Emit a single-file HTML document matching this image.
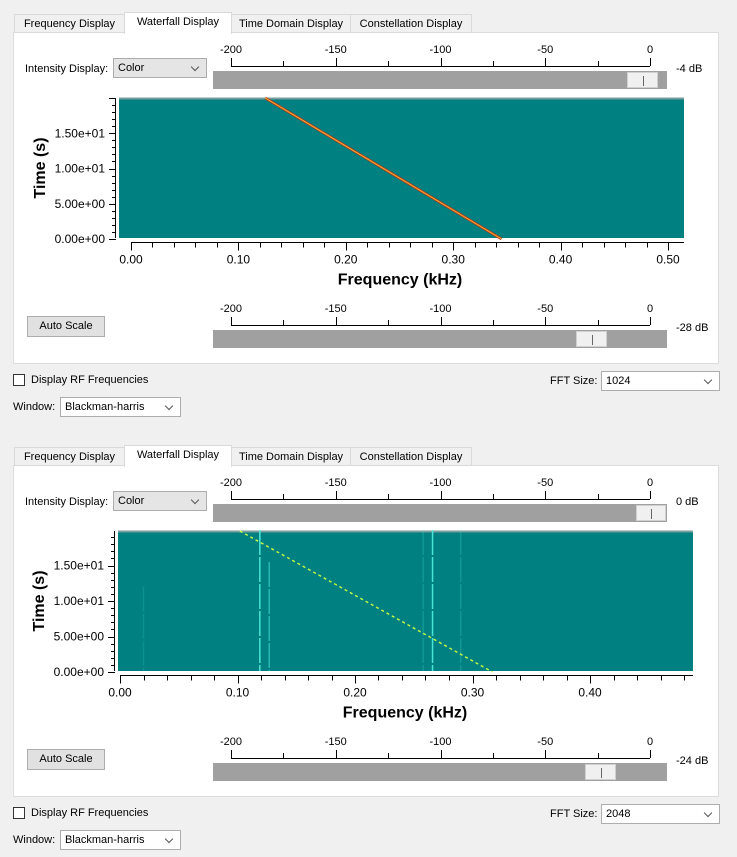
<!DOCTYPE html>
<html><head><meta charset="utf-8">
<style>
body{margin:0;width:737px;height:857px;background:#f0f0f0;font-family:"Liberation Sans",sans-serif;font-size:11px;color:#000;overflow:hidden;position:relative}
.abs{position:absolute}
.tab{position:absolute;height:19px;border:1px solid #d9d9d9;background:#f0f0f0;box-sizing:border-box;text-align:center;line-height:18px;font-size:11px}
.tab.act{background:#fff;height:22px;border-bottom:none}
.panel{position:absolute;border:1px solid #dcdcdc;background:#fff;box-sizing:border-box}
.combo{position:absolute;border:1px solid #adadad;background:#e5e5e5;box-sizing:border-box;padding-left:4px;line-height:18px;font-size:11px}
.combo.w{background:#fff}
.combo:after{content:"";position:absolute;right:8px;top:5px;width:5px;height:5px;border-right:1px solid #555;border-bottom:1px solid #555;transform:rotate(45deg)}
.btn{position:absolute;border:1px solid #adadad;background:#e1e1e1;box-sizing:border-box;text-align:center;line-height:19px;font-size:11px}
.bar{position:absolute;background:#a0a0a0}
.handle{position:absolute;background:#f0f0f0;border:1px solid #d0d0d0;box-sizing:border-box}
.handle:after{content:"";position:absolute;left:50%;top:3px;height:10px;border-left:1px solid #666}
.chk{position:absolute;width:12px;height:12px;border:1px solid #333;background:#fff;box-sizing:border-box}
</style></head><body>
<svg id="svg" class="abs" style="left:0;top:0" width="737" height="857"></svg>
<script>
// ---- data ----
const xTicksTop = [0, 0.1, 0.2, 0.3, 0.4, 0.5];
const xTickLabelsTop = ["0.00","0.10","0.20","0.30","0.40","0.50"];
const xTicksBot = [0, 0.1, 0.2, 0.3, 0.4];
const xTickLabelsBot = ["0.00","0.10","0.20","0.30","0.40"];
const yTicks = [0, 5, 10, 15];
const yTickLabels = ["0.00e+00","5.00e+00","1.00e+01","1.50e+01"];
const dbTicks = [-200,-150,-100,-50,0];
const topChirpFreq = [0.125, 0.345];   // freq at t=20 and t=0
const topChirpTime = [20, 0];
const botChirpFreq = [0.102, 0.317];
const botChirpTime = [20, 0];
const botToneFreq = [0.020, 0.119, 0.127, 0.258, 0.266, 0.290];
const botToneStrength = [0.15, 0.9, 0.5, 0.2, 0.9, 0.2];
const botToneStart = [12, 20, 15.5, 20, 20, 20];

const NS="http://www.w3.org/2000/svg";
const svg=document.getElementById('svg');
function mk(tag,attrs,parent){const e=document.createElementNS(NS,tag);for(const k in attrs)e.setAttribute(k,attrs[k]);(parent||svg).appendChild(e);return e;}
function txt(s,attrs){const t=mk('text',attrs);t.textContent=s;return t;}

function drawPanel(o){
  const g=mk('g',{});
  
  
  const xs=v=>o.x0+(v)*o.pxPerUnit;
  const ys=v=>o.yZero-(v)*o.pxPerSec;
  const bg=mk('rect',{x:o.px,y:o.py,width:o.pw,height:o.ph,fill:'#008080'},g);
  
  
  mk('line',{x1:o.px,y1:o.py+0.5,x2:o.px+o.pw,y2:o.py+0.5,stroke:'#7a9c9c','stroke-width':2},g);
  const yax=mk('g',{},g);
  
  
  mk('line',{x1:o.px-3.5,y1:o.py,x2:o.px-3.5,y2:o.py+o.ph,stroke:'#000'},yax);
  for(let v=0;v<=20;v+=1){const y=Math.round(ys(v))+0.5;if(y<o.py)continue;mk('line',{x1:o.px-(v%5==0?10:7),y1:y,x2:o.px-3,y2:y,stroke:'#000'},yax);}
  yTicks.forEach((v,i)=>{const t=txt(yTickLabels[i],{x:o.px-14,y:ys(v)+4,'text-anchor':'end','font-size':12,fill:'#000'});yax.appendChild(t);});
  const yt=txt('Time (s)',{x:0,y:0,'font-size':16,'font-weight':'bold','text-anchor':'middle',transform:`translate(${o.px-74},${o.py+o.ph/2}) rotate(-90)`});
  
  const xax=mk('g',{},g);
  
  
  const ay=o.py+o.ph+4.5;
  mk('line',{x1:xs(0),y1:ay,x2:o.px+o.pw,y2:ay,stroke:'#000'},xax);
  for(let v=0;v<=o.xMax+1e-9;v+=0.02){const x=Math.round(xs(v))+0.5;const major=Math.abs(v*10-Math.round(v*10))<1e-6;mk('line',{x1:x,y1:ay,x2:x,y2:ay+(major?8:5),stroke:'#000'},xax);}
  o.ticks.forEach((v,i)=>{const t=txt(o.labels[i],{x:xs(v),y:ay+21,'text-anchor':'middle','font-size':12});xax.appendChild(t);});
  const xt=txt('Frequency (kHz)',{x:o.titleX,y:ay+42,'text-anchor':'middle','font-size':16,'font-weight':'bold'});
  
  if(o.tones){o.tones.forEach((f,i)=>{const l=mk('line',{x1:xs(f),y1:ys(o.toneStart[i]),x2:xs(f),y2:o.py+o.ph,stroke:'#50f0e0','stroke-width':1.5,opacity:o.toneStr[i],'stroke-dasharray':'25 2'},g);});}
  const x1=xs(o.chirpF[0]),y1=Math.max(o.py,ys(o.chirpT[0])),x2=xs(o.chirpF[1]),y2=ys(o.chirpT[1]);
  if(o.dashed){const c=mk('line',{x1,y1,x2,y2,stroke:'#c8ff40','stroke-width':1.4,'stroke-dasharray':'3 3'},g);}
  else{mk('line',{x1,y1,x2,y2,stroke:'#c03010','stroke-width':2.6},g);const c=mk('line',{x1,y1,x2,y2,stroke:'#f0c040','stroke-width':1},g);}
}
function drawScale(x0,x1,baseY,name){
  const g=mk('g',{});
  
  
  const sx=v=>x0+(v+200)/200*(x1-x0);
  mk('line',{x1:x0,y1:baseY+0.5,x2:x1,y2:baseY+0.5,stroke:'#000'},g);
  for(let v=-200;v<=0;v+=25){const x=Math.round(sx(v))+0.5;mk('line',{x1:x,y1:baseY-(v%50==0?8:5),x2:x,y2:baseY,stroke:'#000'},g);}
  dbTicks.forEach(v=>{const t=txt(String(v),{x:sx(v),y:baseY-13,'text-anchor':'middle','font-size':11});g.appendChild(t);});
}
drawPanel({name:'top-waterfall',px:119,py:98,pw:565,ph:140,x0:131,pxPerUnit:1074,yZero:239,pxPerSec:7.05,xMax:0.5,ticks:xTicksTop,labels:xTickLabelsTop,titleX:400,chirpF:topChirpFreq,chirpT:topChirpTime,dashed:false});
drawPanel({name:'bottom-waterfall',px:118,py:531,pw:575,ph:140,x0:120,pxPerUnit:1175,yZero:672,pxPerSec:7.1,xMax:0.48,ticks:xTicksBot,labels:xTickLabelsBot,titleX:405,chirpF:botChirpFreq,chirpT:botChirpTime,dashed:true,tones:botToneFreq,toneStr:botToneStrength,toneStart:botToneStart});
drawScale(231,650,66,'intensity-scale-top');
drawScale(231,650,325,'autoscale-scale-top');
drawScale(231,650,499,'intensity-scale-bottom');
drawScale(231,650,758,'autoscale-scale-bottom');
</script>

<!-- TOP -->
<div class="panel" style="left:13px;top:32px;width:706px;height:332px;z-index:-1"></div>
<div class="tab" style="left:14px;top:14px;width:111px">Frequency Display</div>
<div class="tab act" style="left:124px;top:12px;width:108px">Waterfall Display</div>
<div class="tab" style="left:231px;top:14px;width:120px">Time Domain Display</div>
<div class="tab" style="left:350px;top:14px;width:122px">Constellation Display</div>
<div class="abs" style="left:25px;top:63px">Intensity Display:</div>
<div class="combo" style="left:113px;top:58px;width:94px;height:20px">Color</div>
<div class="bar" style="left:213px;top:71px;width:454px;height:18px"></div>
<div class="handle" style="left:627px;top:72px;width:31px;height:16px"></div>
<div class="abs" style="left:676px;top:63px">-4 dB</div>
<div class="btn" style="left:27px;top:316px;width:78px;height:21px">Auto Scale</div>
<div class="bar" style="left:213px;top:330px;width:454px;height:18px"></div>
<div class="handle" style="left:576px;top:331px;width:31px;height:16px"></div>
<div class="abs" style="left:676px;top:322px">-28 dB</div>
<div class="chk" style="left:13px;top:374px"></div>
<div class="abs" style="left:31px;top:374px">Display RF Frequencies</div>
<div class="abs" style="left:550px;top:375px">FFT Size:</div>
<div class="combo w" style="left:601px;top:371px;width:119px;height:20px">1024</div>
<div class="abs" style="left:13px;top:401px">Window:</div>
<div class="combo w" style="left:60px;top:397px;width:121px;height:20px">Blackman-harris</div>

<!-- BOTTOM -->
<div class="panel" style="left:13px;top:465px;width:706px;height:332px;z-index:-1"></div>
<div class="tab" style="left:14px;top:447px;width:111px">Frequency Display</div>
<div class="tab act" style="left:124px;top:445px;width:108px">Waterfall Display</div>
<div class="tab" style="left:231px;top:447px;width:120px">Time Domain Display</div>
<div class="tab" style="left:350px;top:447px;width:122px">Constellation Display</div>
<div class="abs" style="left:25px;top:496px">Intensity Display:</div>
<div class="combo" style="left:113px;top:491px;width:94px;height:20px">Color</div>
<div class="bar" style="left:213px;top:504px;width:454px;height:18px"></div>
<div class="handle" style="left:636px;top:505px;width:30px;height:16px"></div>
<div class="abs" style="left:676px;top:496px">0 dB</div>
<div class="btn" style="left:27px;top:749px;width:78px;height:21px">Auto Scale</div>
<div class="bar" style="left:213px;top:763px;width:454px;height:18px"></div>
<div class="handle" style="left:585px;top:764px;width:31px;height:16px"></div>
<div class="abs" style="left:676px;top:755px">-24 dB</div>
<div class="chk" style="left:13px;top:807px"></div>
<div class="abs" style="left:31px;top:807px">Display RF Frequencies</div>
<div class="abs" style="left:550px;top:808px">FFT Size:</div>
<div class="combo w" style="left:601px;top:804px;width:119px;height:20px">2048</div>
<div class="abs" style="left:13px;top:834px">Window:</div>
<div class="combo w" style="left:60px;top:830px;width:121px;height:20px">Blackman-harris</div>
</body></html>
